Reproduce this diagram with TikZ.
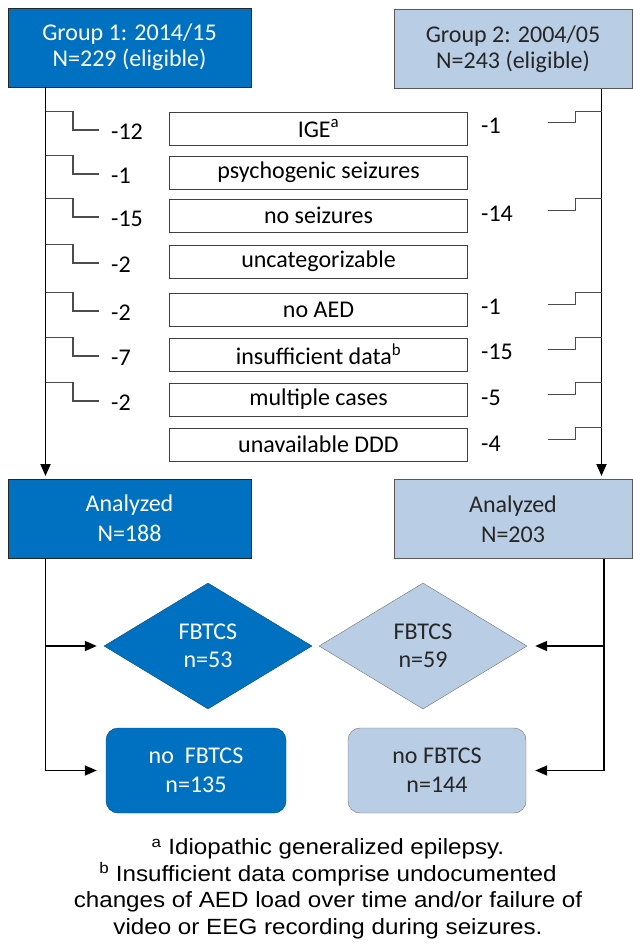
\documentclass[tikz,border=0pt]{standalone}
\usepackage{fontspec}
\setmainfont{Carlito}
\newfontfamily\notefont[FakeStretch=1.1]{Liberation Sans}
\usetikzlibrary{arrows.meta,shapes.geometric}
\definecolor{blueD}{RGB}{0,112,192}
\definecolor{blueL}{RGB}{185,205,229}
\tikzset{
  txt/.style = {align=center, inner sep=0pt,
    font=\fontsize{24}{26}\selectfont},
  grp_d/.style = {txt, rectangle, draw=black!85, fill=blueD, text=white,
    minimum width=243pt, minimum height=79pt},% groupe, bleu fonce
  grp_l/.style = {txt, rectangle, draw=black!65, fill=blueL, text=black!85,
    minimum width=238pt, minimum height=79pt},% groupe, bleu clair
  ana_d/.style = {grp_d, font=\fontsize{24}{30}\selectfont},
  ana_l/.style = {grp_l, font=\fontsize{24}{30}\selectfont},
  excl/.style = {txt, rectangle, draw=black!75, fill=white,
    minimum width=298pt, minimum height=33pt},% motif d'exclusion
  num/.style = {txt, anchor=west},
  fb_d/.style = {txt, diamond, draw=blueD!70!black, fill=blueD, text=white,
    minimum width=208pt, minimum height=126pt,
    font=\fontsize{24}{28}\selectfont},
  fb_l/.style = {fb_d, draw=black!55, fill=blueL, text=black!85},
  nofb_d/.style = {txt, rectangle, rounded corners=12pt, draw=blueD!70!black,
    fill=blueD, text=white, minimum width=180pt, minimum height=85pt,
    font=\fontsize{24}{29}\selectfont},
  nofb_l/.style = {nofb_d, draw=black!55, fill=blueL, text=black!85,
    minimum width=178pt},
  main/.style = {line width=1.8pt, black},
  stepl/.style = {line width=1.1pt, black!70}
}

\begin{document}
\begin{tikzpicture}[x=1pt, y=-1pt, >={Triangle[length=12pt,width=10pt]}]
\useasboundingbox (0,0) rectangle (632,945);
\coordinate (l1) at (45.5,0);
\coordinate (r1) at (601.5,0);
\coordinate (r2) at (604,0);

\node [grp_d] (g1) at (129.5,47.5) {Group 1: 2014/15\\N=229 (eligible)};
\node [grp_l] (g2) at (513,49) {Group 2: 2004/05\\N=243 (eligible)};

% exclusions
\node [excl] (e1) at (318.5,128.5) {IGE\textsuperscript{a}};
\node [excl] (e2) at (318.5,172.5) {psychogenic seizures};
\node [excl] (e3) at (318.5,215.5) {no seizures};
\node [excl] (e4) at (318.5,261.5) {uncategorizable};
\node [excl] (e5) at (318.5,309.5) {no AED};
\node [excl] (e6) at (318.5,354.5) {insufficient data\textsuperscript{b}};
\node [excl] (e7) at (318.5,399.5) {multiple cases};
\node [excl] (e8) at (318.5,444.5) {unavailable DDD};

% nombres, groupe 1
\node [num] (n1) at (111,132) {-12};
\node [num] (n2) at (111,176) {-1};
\node [num] (n3) at (111,219) {-15};
\node [num] (n4) at (111,265) {-2};
\node [num] (n5) at (111,313) {-2};
\node [num] (n6) at (111,358) {-7};
\node [num] (n7) at (111,403) {-2};
% nombres, groupe 2
\node [num] (m1) at (481,126) {-1};
\node [num] (m3) at (481,214) {-14};
\node [num] (m5) at (481,307) {-1};
\node [num] (m6) at (481,352) {-15};
\node [num] (m7) at (481,398) {-5};
\node [num] (m8) at (481,444) {-4};

\draw [main,->,shorten >=3pt] (g1.south -| l1) -- (l1 |- 0,479);
\draw [main,->,shorten >=3pt] (g2.south -| r1) -- (r1 |- 0,479);

\draw [stepl] (l1 |- e1.north) -- ++(27.5,0) |- ([xshift=-12pt,yshift=2pt]n1.west);
\draw [stepl] (l1 |- e2.north) -- ++(27.5,0) |- ([xshift=-12pt,yshift=2pt]n2.west);
\draw [stepl] (l1 |- e3.north) -- ++(27.5,0) |- ([xshift=-12pt,yshift=2pt]n3.west);
\draw [stepl] (l1 |- e4.north) -- ++(27.5,0) |- ([xshift=-12pt,yshift=2pt]n4.west);
\draw [stepl] (l1 |- e5.north) -- ++(27.5,0) |- ([xshift=-12pt,yshift=2pt]n5.west);
\draw [stepl] (l1 |- e6.north) -- ++(27.5,0) |- ([xshift=-12pt,yshift=2pt]n6.west);
\draw [stepl] (l1 |- e7.north) -- ++(27.5,0) |- ([xshift=-12pt,yshift=2pt]n7.west);

\draw [stepl] (r1 |- e1.north) -- ++(-26,0) -- ++(0,11) -- ++(-28,0);
\draw [stepl] (r1 |- e3.north) -- ++(-26,0) -- ++(0,12) -- ++(-28,0);
\draw [stepl] (r1 |- e5.north) -- ++(-26,0) -- ++(0,12) -- ++(-28,0);
\draw [stepl] (r1 |- e6.north) -- ++(-26,0) -- ++(0,12) -- ++(-28,0);
\draw [stepl] (r1 |- e7.north) -- ++(-26,0) -- ++(0,12) -- ++(-28,0);
\draw [stepl] (r1 |- e8.north) -- ++(-26,0) -- ++(0,12) -- ++(-28,0);

% analyses
\node [ana_d] (a1) at (129.5,518.5) {Analyzed\\N=188};
\node [ana_l] (a2) at (513,519) {Analyzed\\N=203};

\node [fb_d] (d1) at (208,646) {FBTCS\\n=53};
\node [fb_l] (d2) at (423,646) {FBTCS\\n=59};
\node [nofb_d] (f1) at (196,770.5) {no\ \ FBTCS\\n=135};
\node [nofb_l] (f2) at (437,770.5) {no FBTCS\\n=144};

\draw [main,->,shorten >=9pt] (a1.south -| l1) |- (f1.west);
\draw [main,->,shorten >=7pt] (l1 |- d1.west) -- (d1.west);
\draw [main,->,shorten >=9pt] (a2.south -| r2) |- (f2.east);
\draw [main,->,shorten >=8pt] (r2 |- d2.east) -- (d2.east);

\node [align=center, inner sep=0pt, font=\notefont\fontsize{22}{26.5}\selectfont]
  (note) at (328,889) {\textsuperscript{a} Idiopathic generalized epilepsy.\\
  \textsuperscript{b} Insufficient data comprise undocumented\\
  changes of AED load over time and/or failure of\\
  video or EEG recording during seizures.};
\end{tikzpicture}
\end{document}
